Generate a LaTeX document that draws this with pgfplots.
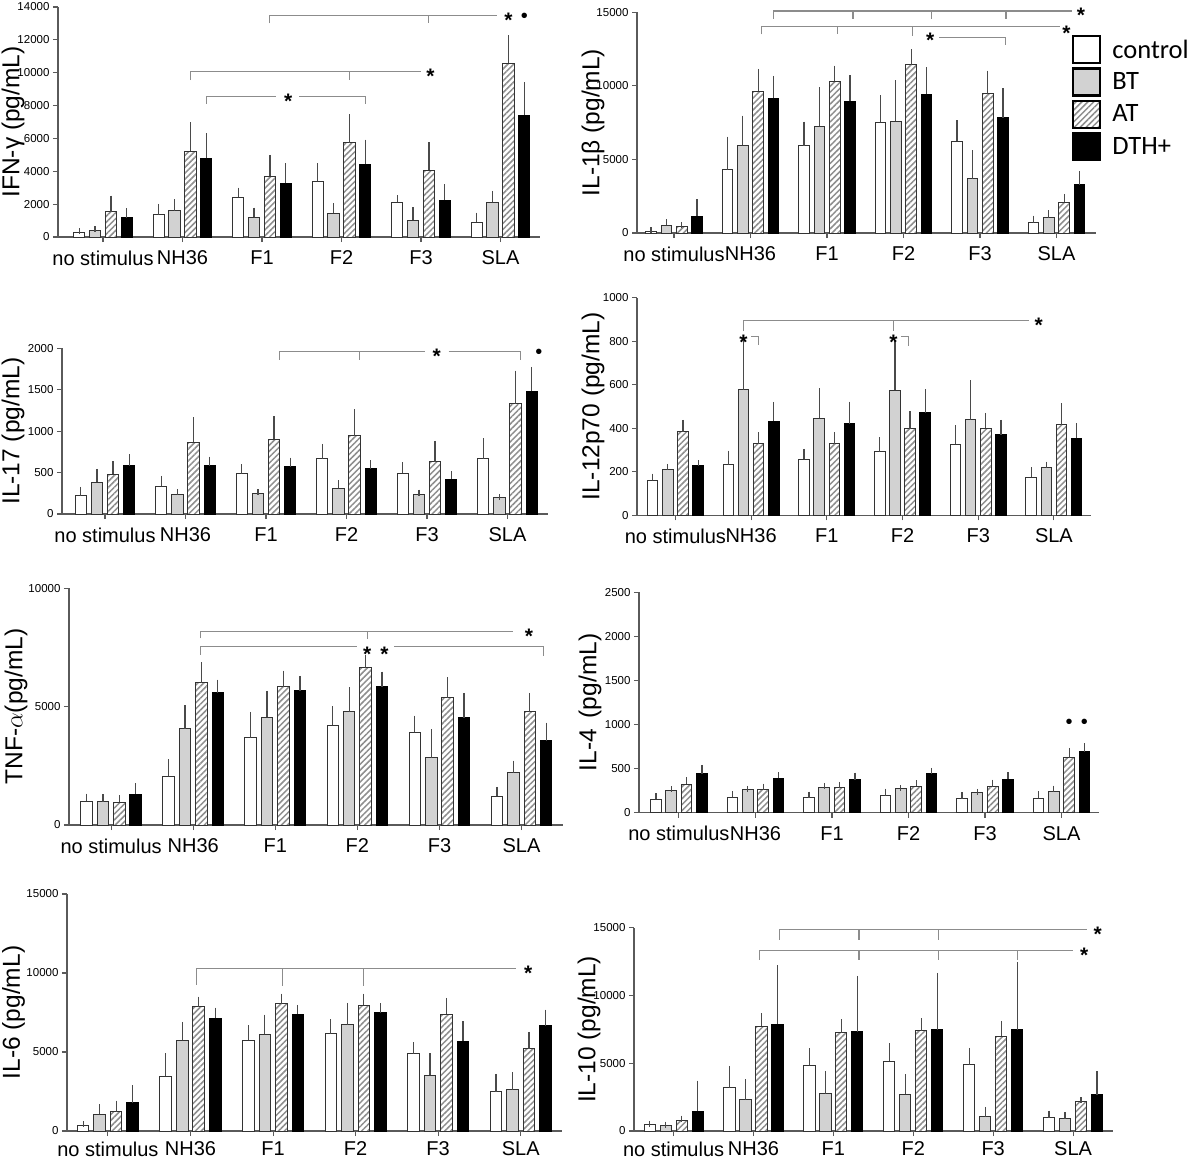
\documentclass[border=0pt]{standalone}
\usepackage{fontspec}
\setmainfont{Liberation Sans}
\newfontfamily\carlito{Carlito}
\usepackage{pgfplots}
\pgfplotsset{compat=1.18}
\usepackage{pgfplotstable}
\usetikzlibrary{patterns.meta}

\definecolor{axgray}{HTML}{5A5A5A}
\definecolor{btgray}{HTML}{D2D2D2}
\definecolor{hatchc}{HTML}{8E8E8E}
\definecolor{brkc}{HTML}{8C8C8C}
\definecolor{errc}{HTML}{4A4A4A}

% columns: x, control (c) and top of its error bar (ce), BT (b, be), AT (a, ae), DTH+ (d, de)
\pgfplotstableread{
x c ce b be a ae d de
0 300 350 420 470 1540 2330 1180 1580
1 1340 1830 1600 2130 5220 6800 4790 6130
2 2420 2820 1200 1600 3700 4820 3270 4300
3 3390 4300 1450 1870 5740 7300 4420 5740
4 2110 2350 1020 1640 4060 5600 2250 3030
5 900 1300 2110 2620 10580 12100 7420 9230
}\tIFN
\pgfplotstableread{
x c ce b be a ae d de
0 135 180 530 720 430 560 1150 2100
1 4300 6350 5950 7770 9620 10950 9150 10470
2 5920 7370 7270 9700 10300 11180 8950 10530
3 7520 9150 7600 10180 11450 12280 9420 11050
4 6250 7450 3700 5420 9450 10830 7830 9630
5 700 970 1020 1330 2080 2460 3270 3990
}\tILonebeta
\pgfplotstableread{
x c ce b be a ae d de
0 222 290 385 510 480 600 583 685
1 335 425 240 265 868 1130 585 655
2 485 565 248 262 905 1145 572 643
3 668 810 310 372 945 1230 546 610
4 493 590 238 258 633 848 418 477
5 668 878 197 205 1330 1695 1480 1740
}\tILseventeen
\pgfplotstableread{
x c ce b be a ae d de
0 160 178 210 223 383 425 229 240
1 232 284 577 797 330 369 433 507
2 257 292 446 571 330 369 421 509
3 292 345 575 789 398 465 472 565
4 327 400 440 608 401 457 370 425
5 176 207 222 233 416 502 354 410
}\tILtwelve
\pgfplotstableread{
x c ce b be a ae d de
0 1010 1200 990 1170 970 1130 1300 1640
1 2060 2650 4060 4940 6020 6760 5580 6020
2 3690 4650 4560 5540 5840 6400 5670 6170
3 4220 4890 4780 5700 6640 7060 5840 6350
4 3910 4490 2850 3920 5370 6110 4540 5460
5 1220 1480 2210 2590 4780 5460 3550 4200
}\tTNF
\pgfplotstableread{
x c ce b be a ae d de
0 155 185 252 265 322 370 440 510
1 175 212 262 270 262 295 390 425
2 170 205 285 305 285 315 375 420
3 190 240 275 280 300 335 440 475
4 160 200 232 236 295 340 382 425
5 162 210 240 272 625 702 690 752
}\tILfour
\pgfplotstableread{
x c ce b be a ae d de
0 370 420 1060 1500 1220 1740 1790 2700
1 3480 4730 5740 6720 7870 8310 7140 7620
2 5760 6510 6120 7170 8060 8510 7380 7800
3 6150 6890 6710 7920 7960 8510 7470 7910
4 4880 5430 3540 4740 7400 8230 5690 6770
5 2470 3430 2620 3520 5200 6080 6660 7500
}\tILsix
\pgfplotstableread{
x c ce b be a ae d de
0 450 520 400 470 780 920 1450 3500
1 3200 4580 2300 3600 7720 8480 7870 12000
2 4850 5900 2750 4220 7240 8030 7330 11230
3 5150 6240 2720 3950 7390 8110 7470 11450
4 4880 5910 1060 1560 6980 7900 7470 12250
5 980 1280 900 1150 2150 2260 2670 4180
}\tILten

\tikzset{
  sctrl/.style={fill=white, draw=black!80, line width=1pt},
  sbt/.style={fill=btgray, draw=black!80, line width=1pt},
  satt/.style={preaction={fill=white}, pattern={Lines[angle=45,distance=4.2pt,line width=1.5pt]}, pattern color=hatchc, draw=black!80, line width=1pt},
  sdth/.style={fill=black, draw=black, line width=1pt},
  brk/.style={draw=brkc, line width=1.1pt},
}
\pgfplotsset{
  panel/.style={
    scale only axis, anchor=south west, clip=false,
    axis lines=left, axis line style={-, draw=axgray, line width=1.3pt},
    ybar=0pt, bar width=0.14, bar shift=0pt, ymin=0,
    xtick={0,...,5}, xticklabels={no stimulus,NH36,F1,F2,F3,SLA},
    tick align=outside, major tick length=5pt,
    tick style={draw=axgray, line width=1.1pt},
    xticklabel style={font=\fontsize{20}{20}\selectfont, yshift=-5pt},
    yticklabel style={font=\fontsize{11.5}{12}\selectfont},
    /pgf/number format/assume math mode=true,
    /pgf/number format/1000 sep={},
    scaled y ticks=false,
    ylabel style={font=\fontsize{24.5}{25}\selectfont, anchor=center},
    error bars/y dir=plus, error bars/y explicit,
    error bars/error bar style={draw=errc, line width=1.2pt},
    error bars/error mark options={draw=errc, line width=1.2pt, mark size=3pt},
  },
  ylabsh/.style={ylabel style={at={(rel axis cs:-#1,0.5)}}},
}
\newcommand{\sstar}[2]{\node[font=\fontsize{21}{21}\selectfont\bfseries, anchor=base, yshift=-12pt, inner sep=0pt] at (axis cs:#1,#2) {*};}
\newcommand{\sdot}[2]{\node[font=\fontsize{20}{20}\selectfont, anchor=base, yshift=-7pt, inner sep=0pt] at (axis cs:#1,#2) {•};}
\newcommand{\bars}[1]{%
  \addplot[sctrl] table[x expr=\thisrow{x}-0.3,y=c,y error expr=\thisrow{ce}-\thisrow{c}]{#1};
  \addplot[sbt] table[x expr=\thisrow{x}-0.1,y=b,y error expr=\thisrow{be}-\thisrow{b}]{#1};
  \addplot[satt] table[x expr=\thisrow{x}+0.1,y=a,y error expr=\thisrow{ae}-\thisrow{a}]{#1};
  \addplot[sdth] table[x expr=\thisrow{x}+0.3,y=d,y error expr=\thisrow{de}-\thisrow{d}]{#1};
}

\begin{document}
\begin{tikzpicture}
\useasboundingbox (0,0) rectangle (1192pt,-1160pt);

% A: IFN-gamma
\begin{axis}[panel, at={(58pt,-237pt)}, width=482pt, height=230pt,
  xmin=-0.566, xmax=5.497, ymax=14000, ytick={0,2000,...,14000},
  ylabel={IFN-γ (pg/mL)}, ylabsh=0.0934]
\bars{\tIFN}
\draw[brk] (axis cs:2.1,13000) |- (axis cs:4.95,13500);
\draw[brk] (axis cs:4.1,13500) -- (axis cs:4.1,13000);
\sstar{5.1}{13500}
\sdot{5.3}{13500}
\draw[brk] (axis cs:1.1,9550) |- (axis cs:4.0,10050);
\draw[brk] (axis cs:3.1,10050) -- (axis cs:3.1,9550);
\sstar{4.12}{10050}
\draw[brk] (axis cs:1.3,8120) |- (axis cs:2.18,8550);
\draw[brk] (axis cs:2.47,8550) -| (axis cs:3.3,8120);
\sstar{2.33}{8550}
\end{axis}

% B: IL-1beta
\begin{axis}[panel, at={(637pt,-233pt)}, width=459pt, height=220.7pt,
  xmin=-0.484, xmax=5.516, ymax=15000, ytick={0,5000,10000,15000},
  ylabel={IL-1β (pg/mL)}, ylabsh=0.0959,
  legend entries={control,BT,AT,DTH+},
  legend style={at={(rel axis cs:0.9477,0.897)}, anchor=north west, draw=none, fill=none,
    font=\carlito\fontsize{26.5}{26.5}\selectfont, inner sep=0pt, row sep=3pt,
    nodes={inner sep=0pt},
    /tikz/every odd column/.append style={column sep=11pt}},
  legend cell align=left,
  legend image code/.code={\draw[#1, line width=2.2pt, draw=black] (0pt,-13.5pt) rectangle (27pt,13.5pt);}]
\bars{\tILonebeta}
\draw[brk] (axis cs:1.3,14550) |- (axis cs:5.2,15090);
\draw[brk] (axis cs:2.34,15090) -- (axis cs:2.34,14550);
\draw[brk] (axis cs:3.36,15090) -- (axis cs:3.36,14550);
\draw[brk] (axis cs:4.34,15090) -- (axis cs:4.34,14550);
\sstar{5.32}{15090}
\draw[brk] (axis cs:1.14,13500) |- (axis cs:5.05,14040);
\draw[brk] (axis cs:2.14,14040) -- (axis cs:2.14,13500);
\draw[brk] (axis cs:3.12,14040) -- (axis cs:3.12,13400);
\sstar{5.13}{13900}
\draw[brk] (axis cs:3.47,13280) -| (axis cs:4.33,12750);
\sstar{3.35}{13450}
\end{axis}

% C: IL-17
\begin{axis}[panel, at={(62pt,-514pt)}, width=486pt, height=165.7pt,
  xmin=-0.534, xmax=5.503, ymax=2000, ytick={0,500,...,2000},
  ylabel={IL-17 (pg/mL)}, ylabsh=0.1008]
\bars{\tILseventeen}
\draw[brk] (axis cs:2.17,1860) |- (axis cs:3.97,1959);
\draw[brk] (axis cs:4.27,1959) -| (axis cs:5.16,1860);
\draw[brk] (axis cs:3.16,1959) -- (axis cs:3.16,1860);
\sstar{4.12}{1959}
\sdot{5.39}{1959}
\end{axis}

% D: IL-12p70
\begin{axis}[panel, at={(637pt,-515.3pt)}, width=454pt, height=217.6pt,
  xmin=-0.507, xmax=5.49, ymax=1000, ytick={0,200,...,1000},
  ylabel={IL-12p70 (pg/mL)}, ylabsh=0.0969]
\bars{\tILtwelve}
\draw[brk] (axis cs:0.9,845) |- (axis cs:4.67,897);
\draw[brk] (axis cs:2.88,897) -- (axis cs:2.88,848);
\sstar{4.8}{897}
\sstar{0.9}{815}
\draw[brk] (axis cs:1.0,823) -| (axis cs:1.1,783);
\sstar{2.88}{815}
\draw[brk] (axis cs:2.98,823) -| (axis cs:3.08,780);
\end{axis}

% E: TNF-alpha
\begin{axis}[panel, at={(69pt,-825pt)}, width=494pt, height=236.7pt,
  xmin=-0.513, xmax=5.505, ymax=10000, ytick={0,5000,10000},
  ylabel={TNF-$\alpha$(pg/mL)}, ylabsh=0.1073]
\bars{\tTNF}
\draw[brk] (axis cs:1.09,7880) |- (axis cs:4.9,8170);
\draw[brk] (axis cs:3.12,8170) -- (axis cs:3.12,7850);
\sstar{5.09}{8170}
\draw[brk] (axis cs:1.09,7200) |- (axis cs:3.0,7530);
\sstar{3.12}{7420}
\sstar{3.33}{7420}
\draw[brk] (axis cs:3.45,7530) -| (axis cs:5.27,7150);
\end{axis}

% F: IL-4
\begin{axis}[panel, at={(639pt,-812.7pt)}, width=460pt, height=220.4pt,
  xmin=-0.522, xmax=5.49, ymax=2500, ytick={0,500,...,2500},
  ylabel={IL-4 \,(pg/mL)}, ylabsh=0.1065]
\bars{\tILfour}
\sdot{5.1}{1030}
\sdot{5.3}{1030}
\end{axis}

% G: IL-6
\begin{axis}[panel, at={(67pt,-1131pt)}, width=495pt, height=237pt,
  xmin=-0.496, xmax=5.5, ymax=15000, ytick={0,5000,10000,15000},
  xticklabel style={yshift=3pt},
  ylabel={IL-6 (pg/mL)}, ylabsh=0.1081]
\bars{\tILsix}
\draw[brk] (axis cs:1.07,9270) |- (axis cs:4.94,10270);
\draw[brk] (axis cs:2.11,10270) -- (axis cs:2.11,9150);
\draw[brk] (axis cs:3.1,10270) -- (axis cs:3.1,9150);
\sstar{5.09}{10270}
\end{axis}

% H: IL-10
\begin{axis}[panel, at={(634pt,-1131pt)}, width=479pt, height=203.3pt,
  xmin=-0.496, xmax=5.5, ymax=15000, ytick={0,5000,10000,15000},
  xticklabel style={yshift=3pt},
  ylabel={IL-10 (pg/mL)}, ylabsh=0.0939]
\bars{\tILten}
\draw[brk] (axis cs:1.32,14100) |- (axis cs:5.18,14880);
\draw[brk] (axis cs:2.32,14880) -- (axis cs:2.32,14100);
\draw[brk] (axis cs:3.31,14880) -- (axis cs:3.31,14100);
\sstar{5.31}{14880}
\draw[brk] (axis cs:1.08,12620) |- (axis cs:5.0,13350);
\draw[brk] (axis cs:2.32,13350) -- (axis cs:2.32,12620);
\draw[brk] (axis cs:3.31,13350) -- (axis cs:3.31,12620);
\draw[brk] (axis cs:4.31,13350) -- (axis cs:4.31,12620);
\sstar{5.14}{13350}
\end{axis}
\end{tikzpicture}
\end{document}
